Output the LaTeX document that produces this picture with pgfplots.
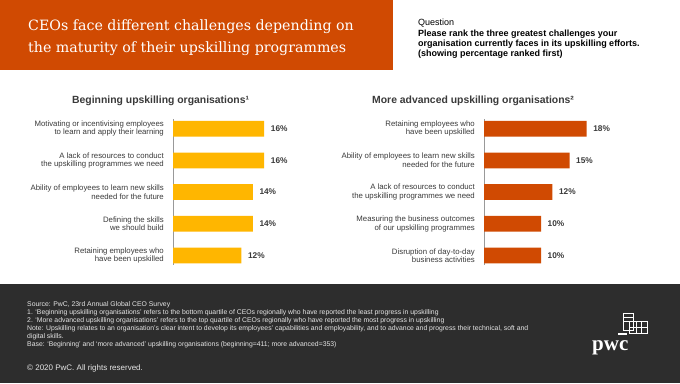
\documentclass[border=0pt]{standalone}
\usepackage{pgfplots}
\pgfplotsset{compat=1.18}
\usepackage{fontspec}
\setmainfont{Liberation Sans}
\newfontfamily\titleserif{DejaVu Serif}
\newfontfamily\logoserif{Liberation Serif}
\definecolor{pwcorange}{HTML}{D04A02}
\definecolor{pwcyellow}{HTML}{FFB600}
\definecolor{footerbg}{HTML}{2D2D2D}
\definecolor{labelgray}{HTML}{3A3A3A}
\definecolor{footertext}{HTML}{E6E6E6}

\pgfplotsset{
  challenge/.style={
    xbar, scale only axis,
    width=114pt, height=145.8pt,
    xmin=0, xmax=20, ymin=-0.3, ymax=4.3,
    hide x axis,
    axis y line*=left,
    y axis line style={draw=gray!80, line width=0.8pt},
    ytick={0,1,2,3,4},
    major tick length=0pt,
    ytick style={draw=none},
    yticklabel style={align=right, anchor=east, inner sep=0pt, xshift=-9pt,
      font=\fontsize{7.8}{8.4}\selectfont, text=labelgray},
    bar width=15.7pt,
    clip=false,
    point meta=x,
    /pgf/number format/assume math mode=true,
    nodes near coords={\pgfmathprintnumber{\pgfplotspointmeta}\%},
    nodes near coords style={anchor=west, inner sep=0pt, xshift=6.5pt,
      font=\fontsize{8.3}{9}\selectfont\bfseries, text=labelgray},
  }
}

\begin{document}
\begin{tikzpicture}[x=1pt,y=1pt]
\path[use as bounding box, fill=white] (0,0) rectangle (680,383);
% header
\fill[pwcorange] (0,383) rectangle (393,313);
\node[anchor=base west, inner sep=0pt, text=white, font=\titleserif\fontsize{14.2}{17}\selectfont] at (28,352.3) {CEOs face different challenges depending on};
\node[anchor=base west, inner sep=0pt, text=white, font=\titleserif\fontsize{14.2}{17}\selectfont] at (28,330) {the maturity of their upskilling programmes};
% question
\node[anchor=base west, inner sep=0pt, font=\fontsize{9}{10}\selectfont, text=black] at (418,357.5) {Question};
\node[anchor=base west, inner sep=0pt, align=left, font=\fontsize{9}{10}\selectfont\bfseries, text=black] at (418,326.5)
  {Please rank the three greatest challenges your\\organisation currently faces in its upskilling efforts.\\(showing percentage ranked first)};
% chart titles
\node[anchor=base west, inner sep=0pt, font=\fontsize{10.4}{12}\selectfont\bfseries, text=labelgray] at (72,279.3) {Beginning upskilling organisations¹};
\node[anchor=base west, inner sep=0pt, font=\fontsize{10.4}{12}\selectfont\bfseries, text=labelgray] at (372,279.3) {More advanced upskilling organisations²};

\begin{axis}[challenge, at={(173pt,118pt)}, anchor=south west,
  yticklabels={{Retaining employees who\\have been upskilled},
               {Defining the skills\\we should build},
               {Ability of employees to learn new skills\\needed for the future},
               {A lack of resources to conduct\\the upskilling programmes we need},
               {Motivating or incentivising employees\\to learn and apply their learning}}]
\addplot[fill=pwcyellow, draw=none] coordinates {(12,0) (14,1) (14,2) (16,3) (16,4)};
\end{axis}

\begin{axis}[challenge, at={(484pt,118pt)}, anchor=south west,
  yticklabels={{Disruption of day-to-day\\business activities},
               {Measuring the business outcomes\\of our upskilling programmes},
               {A lack of resources to conduct\\the upskilling programmes we need},
               {Ability of employees to learn new skills\\needed for the future},
               {Retaining employees who\\have been upskilled}}]
\addplot[fill=pwcorange, draw=none] coordinates {(10,0) (10,1) (12,2) (15,3) (18,4)};
\end{axis}

% footer
\fill[footerbg] (0,0) rectangle (680,99);
\node[anchor=base west, inner sep=0pt, align=left, text=footertext, font=\fontsize{6.85}{8}\selectfont] at (27,36.5)
{Source: PwC, 23rd Annual Global CEO Survey\\
1. `Beginning upskilling organisations' refers to the bottom quartile of CEOs regionally who have reported the least progress in upskilling\\
2. `More advanced upskilling organisations' refers to the top quartile of CEOs regionally who have reported the most progress in upskilling\\
Note: Upskilling relates to an organisation's clear intent to develop its employees' capabilities and employability, and to advance and progress their technical, soft and\\
digital skills.\\
Base: `Beginning' and `more advanced' upskilling organisations (beginning=411; more advanced=353)};
\node[anchor=base west, inner sep=0pt, text=footertext, font=\fontsize{8}{9}\selectfont] at (27,13) {© 2020 PwC. All rights reserved.};
% logo
\node[anchor=base west, inner sep=0pt, text=white, font=\logoserif\fontsize{21}{22}\selectfont\bfseries] at (592,33) {pwc};
\begin{scope}[draw=white, line width=0.6pt]
\draw (623,53) rectangle (633,70);
\draw (623,66) -- (633,66);
\draw (623,62) -- (633,62);
\draw (629,50) rectangle (647,62);
\draw (636,50) -- (636,62);
\draw (641,50) -- (641,62);
\draw (629,56) -- (647,56);
\draw[line width=1.4pt] (618,49) -- (627,49);
\end{scope}
\end{tikzpicture}
\end{document}
